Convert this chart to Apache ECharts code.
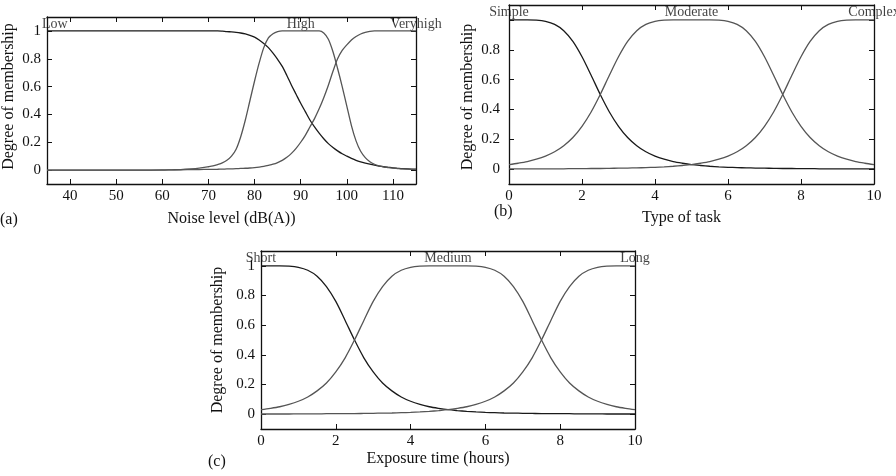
<!DOCTYPE html>
<html>
<head>
<meta charset="utf-8">
<script src="https://cdn.jsdelivr.net/npm/echarts@6/dist/echarts.min.js"></script>
<style>
html,body{margin:0;padding:0;background:#fff;}
#chart{width:896px;height:476px;}
</style>
</head>
<body>
<div id="chart"></div>
<script>
// ---------- Panel (a): Noise level ----------
const aX = [35,40,45,50,55,60,62,64,66,68,70,71,72,73,74,75,76,77,78,79,80,81,82,83,84,85,86,87,88,89,90,91,92,93,94,95,96,97,98,99,100,101,102,103,104,105,106,107,108,109,110,111,112,115];
const aLow = [1,1,1,1,1,1,1,1,1,1,1,1,1,0.998,0.995,0.993,0.99,0.985,0.978,0.968,0.955,0.935,0.91,0.88,0.84,0.795,0.745,0.68,0.61,0.545,0.48,0.42,0.36,0.31,0.265,0.225,0.19,0.162,0.138,0.117,0.1,0.084,0.07,0.059,0.05,0.042,0.035,0.029,0.024,0.02,0.016,0.013,0.01,0.006];
const aHigh = [0,0,0,0,0,0,0.002,0.004,0.008,0.014,0.024,0.03,0.04,0.052,0.07,0.1,0.15,0.24,0.36,0.5,0.64,0.77,0.88,0.95,0.98,0.995,1,1,1,1,1,1,1,1,1,0.985,0.94,0.85,0.73,0.6,0.46,0.32,0.21,0.135,0.09,0.06,0.042,0.031,0.023,0.018,0.014,0.011,0.008,0.004];
const aVeryhigh = [0,0,0,0,0,0.001,0.002,0.002,0.003,0.004,0.005,0.0055,0.006,0.007,0.008,0.009,0.01,0.012,0.013,0.015,0.018,0.022,0.027,0.034,0.042,0.054,0.07,0.092,0.12,0.156,0.2,0.25,0.31,0.37,0.44,0.52,0.61,0.71,0.8,0.86,0.9,0.935,0.96,0.978,0.99,0.997,1,1,1,1,1,1,1,1];
const aNames = ['Low','High','Veryhigh'];
const aXTicks = [40,50,60,70,80,90,100,110];

// ---------- Panel (b): Type of task ----------
const bX = [0,0.25,0.5,0.75,1,1.25,1.5,1.75,2,2.25,2.5,2.75,3,3.25,3.5,3.75,4,4.25,4.5,4.75,5,5.25,5.5,5.75,6,6.25,6.5,6.75,7,7.25,7.5,7.75,8,8.25,8.5,8.75,9,9.25,9.5,9.75,10];
const bSimple = [1,1,1,0.998,0.99,0.97,0.928,0.856,0.753,0.629,0.5,0.383,0.287,0.212,0.157,0.116,0.087,0.066,0.05,0.039,0.03,0.024,0.019,0.015,0.012,0.01,0.008,0.007,0.006,0.005,0.004,0.004,0.003,0.003,0.002,0.002,0.002,0.001,0.001,0.001,0.001];
const bModerate = [0.03,0.039,0.05,0.066,0.087,0.116,0.157,0.212,0.287,0.383,0.5,0.629,0.753,0.856,0.928,0.97,0.99,0.998,1,1,1,1,1,0.998,0.99,0.97,0.928,0.856,0.753,0.629,0.5,0.383,0.287,0.212,0.157,0.116,0.087,0.066,0.05,0.039,0.03];
const bComplex = [0.001,0.001,0.001,0.001,0.002,0.002,0.002,0.003,0.003,0.004,0.004,0.005,0.006,0.007,0.008,0.01,0.012,0.015,0.019,0.024,0.03,0.039,0.05,0.066,0.087,0.116,0.157,0.212,0.287,0.383,0.5,0.629,0.753,0.856,0.928,0.97,0.99,0.998,1,1,1];
const bNames = ['Simple','Moderate','Complex'];
const bXTicks = [0,2,4,6,8,10];

// ---------- Panel (c): Exposure time ----------
const cX = [0,0.25,0.5,0.75,1,1.25,1.5,1.75,2,2.25,2.5,2.75,3,3.25,3.5,3.75,4,4.25,4.5,4.75,5,5.25,5.5,5.75,6,6.25,6.5,6.75,7,7.25,7.5,7.75,8,8.25,8.5,8.75,9,9.25,9.5,9.75,10];
const cShort = [1,1,1,0.998,0.99,0.97,0.93,0.86,0.76,0.632,0.5,0.38,0.285,0.21,0.157,0.116,0.087,0.066,0.05,0.039,0.03,0.024,0.019,0.015,0.012,0.01,0.008,0.007,0.006,0.005,0.004,0.004,0.003,0.003,0.002,0.002,0.002,0.001,0.001,0.001,0.001];
const cMedium = [0.03,0.039,0.05,0.066,0.087,0.116,0.157,0.21,0.285,0.38,0.5,0.632,0.76,0.86,0.93,0.97,0.99,0.998,1,1,1,1,1,0.998,0.99,0.97,0.93,0.86,0.76,0.632,0.5,0.38,0.285,0.21,0.157,0.116,0.087,0.066,0.05,0.039,0.03];
const cLong = [0.001,0.001,0.001,0.001,0.002,0.002,0.002,0.003,0.003,0.004,0.004,0.005,0.006,0.007,0.008,0.01,0.012,0.015,0.019,0.024,0.03,0.039,0.05,0.066,0.087,0.116,0.157,0.21,0.285,0.38,0.5,0.632,0.76,0.86,0.93,0.97,0.99,0.998,1,1,1];
const cNames = ['Short','Medium','Long'];
const cXTicks = [0,2,4,6,8,10];

const yTicks = [0,0.2,0.4,0.6,0.8,1];
const yLabelsAC = [0,0.2,0.4,0.6,0.8,1];
const yLabelsB = [0,0.2,0.4,0.6,0.8];

const FONT = '"Liberation Serif", "DejaVu Serif", serif';
const BLACK = '#111';

const panels = [
  { grid:{left:45, top:17, width:371, height:167}, xmin:35, xmax:115, xTicks:aXTicks, yLabels:yLabelsAC,
    xName:'Noise level (dB(A))', xNameGap:27, yNameGap:30, xLabelMargin:5, yLabelMargin:6,
    xNamePad:[0,0,0,0], yNamePad:[0,0,0,8],
    xs:aX, ys:[aLow,aHigh,aVeryhigh], names:aNames, labelX:[36.7,90,115], letter:'(a)', letterPos:[0,212] },
  { grid:{left:509, top:5, width:365, height:179}, xmin:0, xmax:10, xTicks:bXTicks, yLabels:yLabelsB,
    xName:'Type of task', xNameGap:26, yNameGap:33, xLabelMargin:5, yLabelMargin:9,
    xNamePad:[0,20,0,0], yNamePad:[0,5,0,0],
    xs:bX, ys:[bSimple,bModerate,bComplex], names:bNames, labelX:[0,5,10], letter:'(b)', letterPos:[494,204] },
  { grid:{left:261, top:251, width:374, height:178}, xmin:0, xmax:10, xTicks:cXTicks, yLabels:yLabelsAC,
    xName:'Exposure time (hours)', xNameGap:22, yNameGap:35, xLabelMargin:5, yLabelMargin:6,
    xNamePad:[0,20,0,0], yNamePad:[0,0,0,0],
    xs:cX, ys:[cShort,cMedium,cLong], names:cNames, labelX:[0,5,10], letter:'(c)', letterPos:[208,454] }
];

const lineColors = ['#1a1a1a','#555','#555'];
const grids = [], xAxes = [], yAxes = [], series = [], graphics = [];

panels.forEach((p, gi) => {
  grids.push(Object.assign({containLabel:false}, p.grid));
  const axLine = {show:true, onZero:false, lineStyle:{color:BLACK, width:1.3}};
  const xBase = {type:'value', gridIndex:gi, min:p.xmin, max:p.xmax, splitLine:{show:false}, axisLine:axLine};
  xAxes.push(Object.assign({}, xBase, {
    position:'bottom',
    axisTick:{show:true, inside:true, length:5, customValues:p.xTicks, lineStyle:{color:BLACK}},
    axisLabel:{show:true, customValues:p.xTicks, margin:p.xLabelMargin, color:BLACK, fontFamily:FONT, fontSize:15},
    name:p.xName, nameLocation:'middle', nameGap:p.xNameGap,
    nameTextStyle:{color:BLACK, fontFamily:FONT, fontSize:16, verticalAlign:'top', padding:p.xNamePad}
  }));
  xAxes.push(Object.assign({}, xBase, {
    position:'top',
    axisTick:{show:true, inside:true, length:5, customValues:p.xTicks, lineStyle:{color:BLACK}},
    axisLabel:{show:false}
  }));
  const yBase = {type:'value', gridIndex:gi, min:-0.1, max:1.1, splitLine:{show:false}, axisLine:axLine};
  yAxes.push(Object.assign({}, yBase, {
    position:'left',
    axisTick:{show:true, inside:true, length:5, customValues:yTicks, lineStyle:{color:BLACK}},
    axisLabel:{show:true, customValues:p.yLabels, margin:p.yLabelMargin, color:BLACK, fontFamily:FONT, fontSize:15},
    name:'Degree of membership', nameLocation:'middle', nameGap:p.yNameGap,
    nameTextStyle:{color:BLACK, fontFamily:FONT, fontSize:16, padding:p.yNamePad}
  }));
  yAxes.push(Object.assign({}, yBase, {
    position:'right',
    axisTick:{show:true, inside:true, length:5, customValues:yTicks, lineStyle:{color:BLACK}},
    axisLabel:{show:false}
  }));
  const xi = gi * 2;
  p.ys.forEach((ys, si) => {
    series.push({
      type:'line', xAxisIndex:xi, yAxisIndex:xi, name:p.names[si],
      data:p.xs.map((x, i) => [x, ys[i]]),
      smooth:0.3, symbol:'none', animation:false,
      lineStyle:{color:lineColors[si], width:1.3}
    });
  });
  series.push({
    type:'scatter', xAxisIndex:xi, yAxisIndex:xi, symbolSize:1, animation:false, silent:true,
    itemStyle:{color:'rgba(0,0,0,0)'},
    data:p.names.map((n, i) => ({value:[p.labelX[i], 1.05], name:n})),
    label:{show:true, position:'inside', formatter:'{b}', color:BLACK, fontFamily:FONT, fontSize:14}
  });
  graphics.push({type:'text', left:p.letterPos[0], top:p.letterPos[1],
    style:{text:p.letter, fill:BLACK, font:'16px ' + FONT}});
});

const chart = echarts.init(document.getElementById('chart'), null, {renderer:'canvas'});
chart.setOption({
  backgroundColor:'#fff',
  animation:false,
  grid:grids, xAxis:xAxes, yAxis:yAxes, series:series, graphic:graphics
});
</script>
</body>
</html>
